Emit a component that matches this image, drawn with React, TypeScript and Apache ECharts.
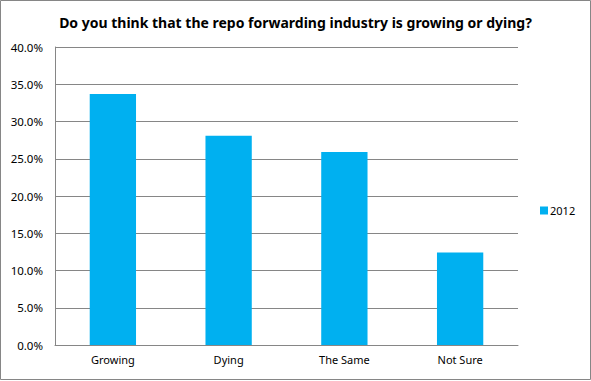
import React, { useEffect, useRef } from "react";
import * as echarts from "echarts";

const categories = ["Growing", "Dying", "The Same", "Not Sure"];
const values2012 = [33.7, 28.1, 25.9, 12.4];
const seriesName = "2012";
const titleText = "Do you think that the repo forwarding industry is growing or dying?";

export default function App() {
  const ref = useRef<HTMLDivElement>(null);
  useEffect(() => {
    document.body.style.margin = "0";
    const chart = echarts.init(ref.current!, null, { renderer: "svg" });
    chart.setOption({
      animation: false,
      backgroundColor: "#ffffff",
      title: {
        text: titleText,
        left: "center",
        top: 10,
        textStyle: { fontFamily: "Noto Sans", fontWeight: "bold", fontSize: 14, color: "#000" },
      },
      legend: {
        data: [seriesName],
        left: 535,
        top: 200,
        itemWidth: 8,
        itemHeight: 8,
        itemGap: 4,
        icon: "rect",
        textStyle: { fontFamily: "Noto Sans", fontSize: 11, color: "#000", padding: [0, 0, 0, -3] },
      },
      grid: { left: 55, right: 73, top: 47, bottom: 36 },
      xAxis: {
        type: "category",
        data: categories,
        axisLine: { lineStyle: { color: "#868686" } },
        axisTick: { show: false },
        axisLabel: { fontFamily: "Noto Sans", fontSize: 11, color: "#000", margin: 9 },
      },
      yAxis: {
        type: "value",
        min: 0,
        max: 40,
        interval: 5,
        axisLine: { show: true, lineStyle: { color: "#868686" } },
        axisTick: { show: false },
        splitLine: { lineStyle: { color: "#868686" } },
        axisLabel: {
          fontFamily: "Noto Sans",
          fontSize: 11.5,
          color: "#000",
          margin: 12,
          formatter: (v: number) => v.toFixed(1) + "%",
        },
      },
      series: [
        {
          name: seriesName,
          type: "bar",
          data: values2012,
          barWidth: "40%",
          itemStyle: { color: "#00B0F0" },
        },
      ],
      graphic: [
        {
          type: "rect",
          shape: { x: 0.5, y: 0.5, width: 590, height: 379 },
          style: { fill: "none", stroke: "#868686", lineWidth: 1 },
          silent: true,
        },
      ],
    });
    return () => chart.dispose();
  }, []);
  return <div ref={ref} style={{ position: "absolute", left: 0, top: 0, width: 591, height: 381 }} />;
}
